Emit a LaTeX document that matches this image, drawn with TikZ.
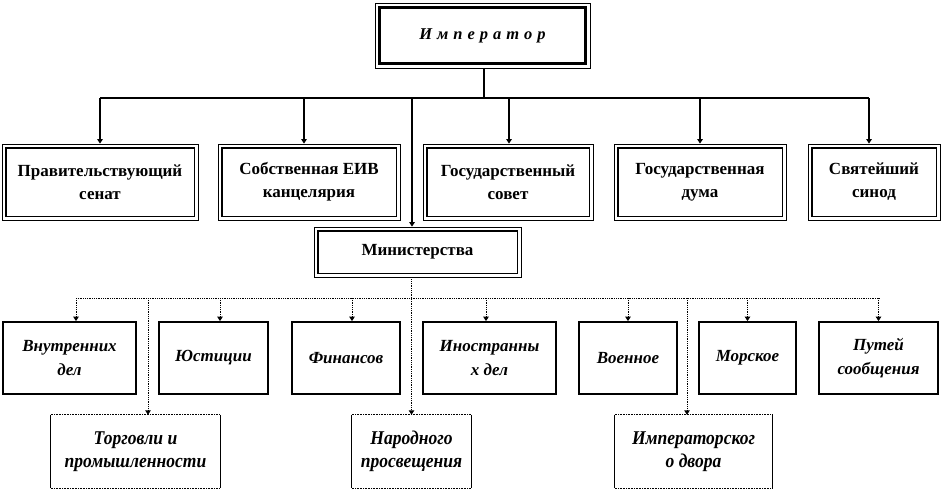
\documentclass[tikz,border=0pt]{standalone}
\usepackage{fontspec}
\setmainfont{Liberation Serif}
\newfontfamily\condfont[FakeStretch=0.9]{Liberation Serif}
\usetikzlibrary{arrows.meta}

\begin{document}
\begin{tikzpicture}[x=1pt,y=-1pt,
  tip/.style={-{Triangle[width=5.5pt,length=4.5pt]}},
  solidln/.style={line width=1.6pt},
  dotln/.style={line width=0.9pt, dash pattern=on 0.9pt off 0.9pt},
  frame/.style={draw, line width=0.8pt, align=center, inner sep=0pt},
  toptext/.style={font=\fontsize{17}{23}\selectfont\bfseries},
  midbox/.style={draw, line width=1.8pt, align=center, inner sep=0pt, minimum height=72pt,
    font=\fontsize{17}{24}\selectfont\bfseries\itshape},
  botbox/.style={align=center, inner sep=0pt, minimum height=73pt,
    font=\condfont\fontsize{19.5}{23}\selectfont\bfseries\itshape},
  innerthick/.style={line width=1.8pt}
]
\useasboundingbox (0,0) rectangle (944,491);

% Emperor
\node[frame, minimum width=215pt, minimum height=65pt,
  font=\fontsize{16.5}{18}\selectfont\bfseries\itshape] (emp) at (482.5,35.5)
  {И\kern5pt м\kern5pt п\kern5pt е\kern5pt р\kern5pt а\kern5pt т\kern5pt о\kern5pt р};
\draw[line width=3.5pt] ([shift={(5pt,-5pt)}]emp.north west) rectangle ([shift={(-5pt,5pt)}]emp.south east);

% Top row
\node[frame, toptext, minimum width=196pt, minimum height=76pt] (senat) at (100,182) {Правительствующий\\сенат};
\node[frame, toptext, minimum width=182pt, minimum height=76pt] (eiv) at (309,182) {Собственная ЕИВ\\канцелярия};
\node[frame, toptext, minimum width=170pt, minimum height=76pt] (sovet) at (508,182) {Государственный\\совет};
\node[frame, toptext, minimum width=172pt, minimum height=76pt] (duma) at (700,182) {Государственная\\дума};
\node[frame, toptext, minimum width=132pt, minimum height=76pt] (sinod) at (874,182) {Святейший\\синод};

% Ministries
\node[frame, toptext, minimum width=207pt, minimum height=50pt] (min) at (417.5,252) {Министерства};

\foreach \n in {senat,eiv,sovet,duma,sinod,min}
  \draw[innerthick] ([shift={(4pt,-4pt)}]\n.north west) rectangle ([shift={(-4pt,4pt)}]\n.south east);

% Middle row
\node[midbox, minimum width=133pt] (vnutr) at (69.5,358) {Внутренних\\дел};
\node[midbox, minimum width=109pt] (just) at (213.5,358) {Юстиции};
\node[midbox, minimum width=108pt] (fin) at (346,358) {Финансов};
\node[midbox, minimum width=133pt] (inostr) at (489.5,358) {Иностранны\\х дел};
\node[midbox, minimum width=98pt] (voen) at (628,358) {Военное};
\node[midbox, minimum width=97pt] (morsk) at (747.5,358) {Морское};
\node[midbox, minimum width=119pt] (putei) at (878.5,358) {Путей\\сообщения};

% Bottom row
\node[botbox, minimum width=169pt] (torg) at (135.5,451.5) {Торговли и\\промышленности};
\node[botbox, minimum width=119pt] (narod) at (411.5,451.5) {Народного\\просвещения};
\node[botbox, minimum width=157pt] (imp) at (693.5,451.5) {Императорског\\о двора};
\foreach \n in {torg,narod,imp} {
  \draw[line width=1.3pt] (\n.north west) -- (\n.south west) (\n.north east) -- (\n.south east);
  \draw[line width=1.3pt, dash pattern=on 1pt off 0.6pt] (\n.north west) -- (\n.north east) (\n.south west) -- (\n.south east);
}

% Solid connectors
\coordinate (busL) at (100,98);
\coordinate (busR) at (869,98);
\draw[solidln] ([xshift=1.5pt]emp.south) -- ([xshift=1.5pt]emp.south |- busL);
\draw[solidln] (busL) -- (busR);
\draw[solidln, tip] (busL) -- (senat.north);
\draw[solidln, tip] ([xshift=-5pt]eiv.north |- busL) -- ([xshift=-5pt]eiv.north);
\draw[solidln, tip] ([xshift=1pt]sovet.north |- busL) -- ([xshift=1pt]sovet.north);
\draw[solidln, tip] (duma.north |- busL) -- (duma.north);
\draw[solidln, tip] ([xshift=-5pt]sinod.north |- busL) -- ([xshift=-5pt]sinod.north);
\draw[solidln, tip] ([xshift=-5.5pt]min.north |- busL) -- ([xshift=-5.5pt]min.north);

% Dotted connectors
\coordinate (dL) at (76,298);
\coordinate (dR) at (879,298);
\draw[dotln] (dL) -- (dR);
\draw[dotln, tip] (narod.north |- min.south) -- (narod.north);
\draw[dotln, tip] ([xshift=6.5pt]vnutr.north |- dL) -- ([xshift=6.5pt]vnutr.north);
\draw[dotln, tip] ([xshift=6.5pt]just.north |- dL) -- ([xshift=6.5pt]just.north);
\draw[dotln, tip] ([xshift=6pt]fin.north |- dL) -- ([xshift=6pt]fin.north);
\draw[dotln, tip] ([xshift=-3.5pt]inostr.north |- dL) -- ([xshift=-3.5pt]inostr.north);
\draw[dotln, tip] (voen.north |- dL) -- (voen.north);
\draw[dotln, tip] (morsk.north |- dL) -- (morsk.north);
\draw[dotln, tip] (putei.north |- dL) -- (putei.north);
\draw[dotln, tip] ([xshift=12.5pt]torg.north |- dL) -- ([xshift=12.5pt]torg.north);
\draw[dotln, tip] ([xshift=-6.5pt]imp.north |- dL) -- ([xshift=-6.5pt]imp.north);
\end{tikzpicture}
\end{document}
